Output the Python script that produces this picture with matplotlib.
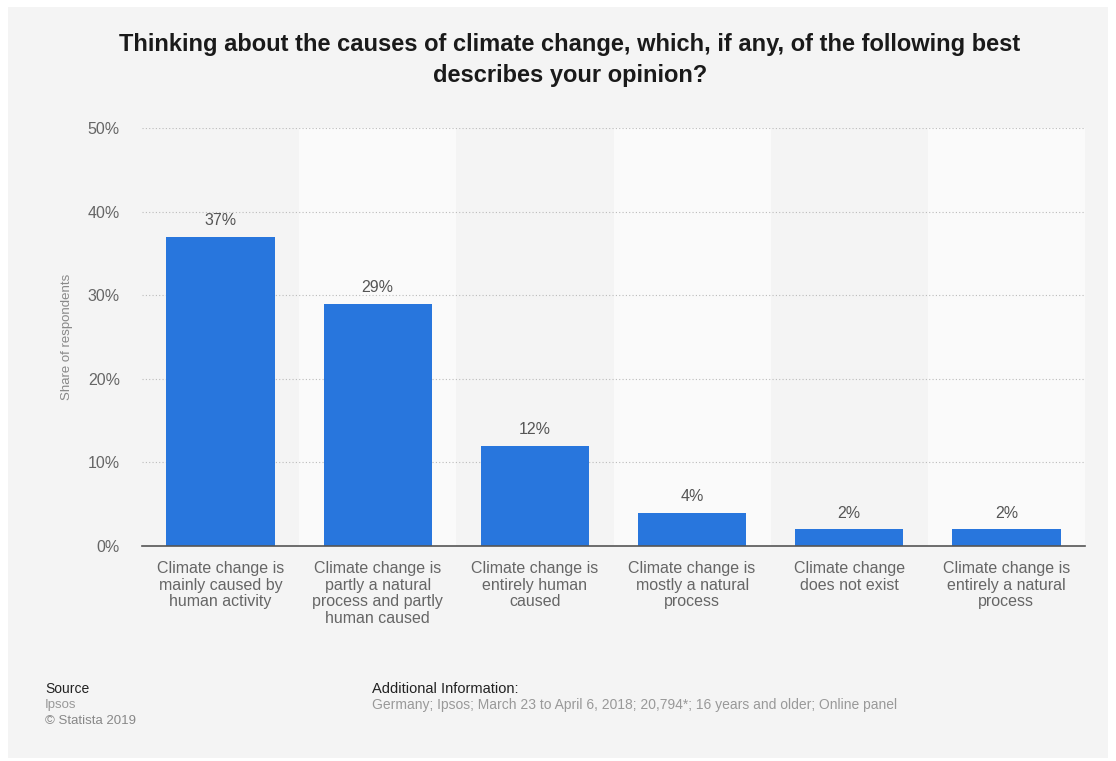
import matplotlib.pyplot as plt
from matplotlib.patches import Rectangle

categories = [
    "Climate change is\nmainly caused by\nhuman activity",
    "Climate change is\npartly a natural\nprocess and partly\nhuman caused",
    "Climate change is\nentirely human\ncaused",
    "Climate change is\nmostly a natural\nprocess",
    "Climate change\ndoes not exist",
    "Climate change is\nentirely a natural\nprocess",
]
shares = [37, 29, 12, 4, 2, 2]
y_ticks = [0, 10, 20, 30, 40, 50]

plt.rcParams['font.family'] = ['Liberation Sans', 'DejaVu Sans']

BAR = '#2876dd'
TXT = '#666666'

fig = plt.figure(figsize=(11.16, 7.61), dpi=100)
fig.patch.set_facecolor('white')
# grey panel behind everything
fig.patches.append(Rectangle((8 / 1116, 3 / 761), 1100 / 1116, 751 / 761,
                             transform=fig.transFigure, facecolor='#f4f4f4',
                             edgecolor='none', zorder=-10))

ax = fig.add_axes([142 / 1116, 1 - 546 / 761, 943 / 1116, 418 / 761])
ax.set_facecolor('none')

x = list(range(len(categories)))
for i in x:
    if i % 2 == 1:
        ax.axvspan(i - 0.5, i + 0.5, color='#fafafa', zorder=0, lw=0)

ax.bar(x, shares, width=0.69, color=BAR, zorder=3)
for xi, v in zip(x, shares):
    ax.annotate(f"{v}%", (xi, v), xytext=(0, 6), textcoords='offset points',
                ha='center', va='bottom', fontsize=11.5, color='#555555')

ax.set_xlim(-0.5, len(categories) - 0.5)
ax.set_ylim(0, 50)
ax.set_yticks(y_ticks)
ax.set_yticklabels([f"{t}%" for t in y_ticks])
ax.set_xticks(x)
ax.set_xticklabels(categories, fontsize=11.5, color=TXT, linespacing=1.12)
ax.tick_params(axis='y', length=0, pad=16, labelsize=11.5, labelcolor=TXT)
ax.tick_params(axis='x', length=0, pad=11)

ax.grid(axis='y', linestyle=(0, (1, 2)), color='#bbbbbb', lw=0.8, zorder=1)
for s in ['top', 'right', 'left']:
    ax.spines[s].set_visible(False)
ax.spines['bottom'].set_color('#555555')
ax.spines['bottom'].set_linewidth(1.2)
ax.spines['bottom'].set_zorder(4)

ax.set_ylabel("Share of respondents", fontsize=9.5, color='#888888')
ax.yaxis.set_label_coords(-0.073, 0.5)

fig.text(570 / 1116, 1 - 60 / 761,
         "Thinking about the causes of climate change, which, if any, of the following best\ndescribes your opinion?",
         ha='center', va='center', fontsize=17, fontweight='bold', color='#1a1a1a',
         linespacing=1.4)

fig.text(45 / 1116, 1 - 689 / 761, "Source", fontsize=10, color='#222222', va='center')
fig.text(45 / 1116, 1 - 705 / 761, "Ipsos", fontsize=9.5, color='#999999', va='center')
fig.text(45 / 1116, 1 - 721 / 761, "© Statista 2019", fontsize=9.5, color='#888888', va='center')
fig.text(372 / 1116, 1 - 689 / 761, "Additional Information:", fontsize=10.5, color='#222222', va='center')
fig.text(372 / 1116, 1 - 705 / 761,
         "Germany; Ipsos; March 23 to April 6, 2018; 20,794*; 16 years and older; Online panel",
         fontsize=10, color='#999999', va='center')

fig.savefig('out.png', dpi=100, facecolor=fig.get_facecolor())
